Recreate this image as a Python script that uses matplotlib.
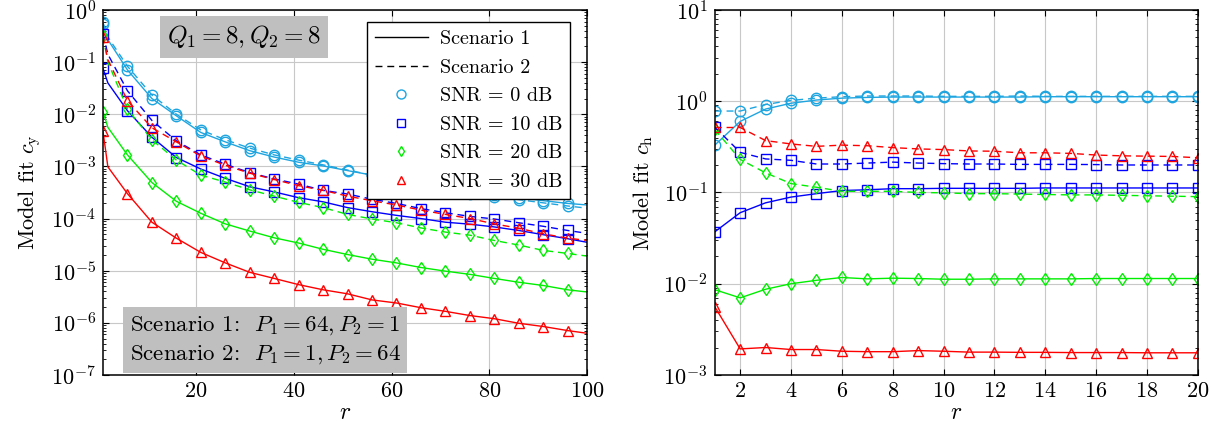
import matplotlib
matplotlib.use("Agg")
import matplotlib.pyplot as plt
from matplotlib.lines import Line2D
from matplotlib.ticker import LogLocator, NullFormatter

plt.rcParams['font.family'] = 'serif'
plt.rcParams['font.serif'] = ['cmr10']
plt.rcParams['mathtext.fontset'] = 'cm'
plt.rcParams['axes.formatter.use_mathtext'] = True
plt.rcParams['axes.unicode_minus'] = False
plt.rcParams['font.size'] = 15

# ---- left panel: c_y versus r ----
r_y = [1, 2, 6, 11, 16, 21, 26, 31, 36, 41, 46, 51, 56, 61, 66, 71, 76, 81, 86, 91, 96, 100]

cy_snr0_s1 = [0.537, 0.269, 0.0708, 0.0200, 9.33e-3, 4.47e-3, 2.95e-3, 2.00e-3, 1.51e-3, 1.20e-3, 1.02e-3,
              8.3e-4, 6.8e-4, 5.5e-4, 4.6e-4, 3.8e-4, 3.2e-4, 2.8e-4, 2.5e-4, 2.2e-4, 1.95e-4, 1.82e-4]
cy_snr0_s2 = [0.575, 0.302, 0.0832, 0.0234, 0.0100, 5.01e-3, 3.24e-3, 2.24e-3, 1.66e-3, 1.32e-3, 1.07e-3,
              8.5e-4, 6.8e-4, 5.4e-4, 4.4e-4, 3.6e-4, 3.0e-4, 2.6e-4, 2.3e-4, 2.0e-4, 1.74e-4, 1.58e-4]
cy_snr10_s1 = [0.0759, 0.0398, 0.0117, 3.63e-3, 1.48e-3, 8.9e-4, 5.9e-4, 4.07e-4, 3.24e-4, 2.51e-4, 2.09e-4,
               1.62e-4, 1.35e-4, 1.15e-4, 1.0e-4, 8.5e-5, 7.8e-5, 6.9e-5, 5.9e-5, 4.9e-5, 4.1e-5, 3.5e-5]
cy_snr10_s2 = [0.347, 0.141, 0.0282, 7.6e-3, 3.09e-3, 1.66e-3, 1.10e-3, 7.6e-4, 5.75e-4, 4.57e-4, 3.47e-4,
               2.95e-4, 2.34e-4, 1.95e-4, 1.55e-4, 1.29e-4, 1.10e-4, 9.8e-5, 8.3e-5, 7.1e-5, 5.9e-5, 5.2e-5]
cy_snr20_s1 = [0.0112, 5.6e-3, 1.66e-3, 4.9e-4, 2.14e-4, 1.26e-4, 7.9e-5, 5.75e-5, 4.27e-5, 3.39e-5, 2.57e-5,
               2.04e-5, 1.66e-5, 1.41e-5, 1.15e-5, 9.8e-6, 8.5e-6, 7.1e-6, 6.0e-6, 5.2e-6, 4.3e-6, 3.9e-6]
cy_snr20_s2 = [0.316, 0.100, 0.0126, 3.24e-3, 1.32e-3, 6.8e-4, 5.0e-4, 3.55e-4, 2.69e-4, 2.04e-4, 1.62e-4,
               1.20e-4, 9.8e-5, 8.3e-5, 6.6e-5, 5.5e-5, 4.8e-5, 3.8e-5, 3.1e-5, 2.45e-5, 2.14e-5, 1.9e-5]
cy_snr30_s1 = [4.7e-3, 9.8e-4, 3.0e-4, 8.5e-5, 4.2e-5, 2.24e-5, 1.41e-5, 9.3e-6, 7.1e-6, 5.4e-6, 4.3e-6,
               3.6e-6, 2.75e-6, 2.4e-6, 1.95e-6, 1.66e-6, 1.38e-6, 1.20e-6, 9.8e-7, 8.5e-7, 7.1e-7, 6.3e-7]
cy_snr30_s2 = [0.309, 0.112, 0.0182, 5.5e-3, 2.95e-3, 1.58e-3, 1.05e-3, 7.4e-4, 5.6e-4, 4.27e-4, 3.47e-4,
               2.69e-4, 2.19e-4, 1.82e-4, 1.45e-4, 1.20e-4, 1.0e-4, 7.9e-5, 6.5e-5, 5.1e-5, 4.2e-5, 3.8e-5]

# ---- right panel: c_h versus r ----
r_h = list(range(1, 21))

ch_snr0_s1 = [0.33, 0.60, 0.82, 0.95, 1.03, 1.08, 1.10, 1.11, 1.11, 1.11, 1.11, 1.11, 1.11, 1.12, 1.12, 1.12, 1.12, 1.12, 1.12, 1.12]
ch_snr0_s2 = [0.78, 0.78, 0.92, 1.02, 1.08, 1.12, 1.14, 1.14, 1.14, 1.13, 1.13, 1.13, 1.14, 1.13, 1.13, 1.13, 1.13, 1.13, 1.13, 1.13]
ch_snr10_s1 = [0.037, 0.060, 0.077, 0.089, 0.097, 0.105, 0.107, 0.110, 0.110, 0.111, 0.111, 0.111, 0.111, 0.112, 0.112, 0.112,
               0.112, 0.112, 0.112, 0.112]
ch_snr10_s2 = [0.52, 0.275, 0.233, 0.225, 0.205, 0.205, 0.210, 0.215, 0.210, 0.207, 0.205, 0.205, 0.203, 0.203, 0.203, 0.202,
               0.200, 0.200, 0.200, 0.200]
ch_snr20_s1 = [0.0086, 0.0070, 0.0087, 0.0100, 0.0109, 0.0117, 0.0113, 0.0115, 0.0114, 0.0112, 0.0112, 0.0113, 0.0113,
               0.0113, 0.0113, 0.0114, 0.0114, 0.0114, 0.0114, 0.0114]
ch_snr20_s2 = [0.49, 0.23, 0.164, 0.125, 0.114, 0.103, 0.103, 0.103, 0.100, 0.099, 0.097, 0.097, 0.096, 0.095, 0.094, 0.094,
               0.093, 0.092, 0.091, 0.090]
ch_snr30_s1 = [0.0056, 0.00193, 0.0020, 0.0019, 0.0019, 0.00182, 0.0018, 0.0018, 0.00185, 0.00182, 0.00178, 0.00178,
               0.00177, 0.00177, 0.00176, 0.00176, 0.00176, 0.00175, 0.00175, 0.00175]
ch_snr30_s2 = [0.515, 0.515, 0.37, 0.34, 0.32, 0.33, 0.325, 0.31, 0.30, 0.295, 0.285, 0.283, 0.272, 0.272, 0.268, 0.257,
               0.252, 0.25, 0.248, 0.24]

snr_labels = ['SNR = 0 dB', 'SNR = 10 dB', 'SNR = 20 dB', 'SNR = 30 dB']
colors = ['#1ea5e0', '#0000ff', '#00ee00', '#ff0000']
markers = ['o', 's', 'd', '^']
msizes = [7.5, 7, 6.5, 7]

cy_s1 = [cy_snr0_s1, cy_snr10_s1, cy_snr20_s1, cy_snr30_s1]
cy_s2 = [cy_snr0_s2, cy_snr10_s2, cy_snr20_s2, cy_snr30_s2]
ch_s1 = [ch_snr0_s1, ch_snr10_s1, ch_snr20_s1, ch_snr30_s1]
ch_s2 = [ch_snr0_s2, ch_snr10_s2, ch_snr20_s2, ch_snr30_s2]

# markers every 5 samples on the left (r = 1, 6, ..., 96)
mark_y = [0] + list(range(2, len(r_y) - 1))

fig = plt.figure(figsize=(12.26, 4.32), dpi=100)
ax1 = fig.add_axes([0.084, 0.132, 0.395, 0.845])
ax2 = fig.add_axes([0.583, 0.132, 0.394, 0.845])

dash = (0, (5, 3.5))
for i in range(4):
    kw = dict(color=colors[i], marker=markers[i], ms=msizes[i], mfc='none', mew=1.0, lw=1.0)
    ax1.plot(r_y, cy_s2[i], ls=dash, markevery=mark_y, **kw)
    ax1.plot(r_y, cy_s1[i], ls='-', markevery=mark_y, **kw)
    ax2.plot(r_h, ch_s2[i], ls=dash, **kw)
    ax2.plot(r_h, ch_s1[i], ls='-', **kw)

for ax in (ax1, ax2):
    ax.set_yscale('log')
    ax.grid(True, which='major', color='#c8c8c8', lw=0.8)
    ax.set_axisbelow(True)
    ax.tick_params(which='both', direction='in', top=True, right=True, labelsize=16)
    ax.tick_params(which='major', length=4, pad=5)
    ax.tick_params(which='minor', length=2.5)
    ax.yaxis.set_minor_locator(LogLocator(base=10, subs=range(2, 10), numticks=20))
    ax.yaxis.set_minor_formatter(NullFormatter())
    for s in ax.spines.values():
        s.set_linewidth(1.1)
    ax.set_xlabel('$r$', fontsize=17, labelpad=0)

ax1.set_xlim(1, 100)
ax1.set_ylim(1e-7, 1)
ax1.set_xticks([20, 40, 60, 80, 100])
ax1.yaxis.set_major_locator(LogLocator(base=10, numticks=10))
ax1.set_ylabel(r'Model fit $c_{\mathrm{y}}$', fontsize=16, labelpad=6)

ax2.set_xlim(1, 20)
ax2.set_ylim(1e-3, 10)
ax2.set_xticks(range(2, 21, 2))
ax2.set_ylabel(r'Model fit $c_{\mathrm{h}}$', fontsize=16, labelpad=6)

# annotation boxes
box = dict(boxstyle='square,pad=0.3', fc='#bfbfbf', ec='none')
ax1.text(0.291, 0.926, '$Q_1 = 8, Q_2 = 8$', transform=ax1.transAxes, ha='center', va='center',
         fontsize=18, bbox=box)
ax1.text(0.055, 0.096, 'Scenario 1:  $P_1 = 64, P_2 = 1$\nScenario 2:  $P_1 = 1, P_2 = 64$',
         transform=ax1.transAxes, ha='left', va='center', fontsize=16.5, linespacing=1.4, bbox=box)

# legend
handles = [Line2D([], [], color='k', lw=1.0, ls='-'),
           Line2D([], [], color='k', lw=1.0, ls=dash)]
for i in range(4):
    handles.append(Line2D([], [], color=colors[i], marker=markers[i], ms=msizes[i] - 1, mfc='none', mew=1.0, ls='none'))
leg = ax1.legend(handles, ['Scenario 1', 'Scenario 2'] + snr_labels, loc='upper right',
                 bbox_to_anchor=(0.965, 0.967), borderaxespad=0, fontsize=14.5, fancybox=False,
                 framealpha=1, edgecolor='k', handlelength=2.6, handletextpad=0.6,
                 labelspacing=0.52, borderpad=0.4)
leg.get_frame().set_linewidth(1.0)

fig.savefig('out.png', dpi=100)
